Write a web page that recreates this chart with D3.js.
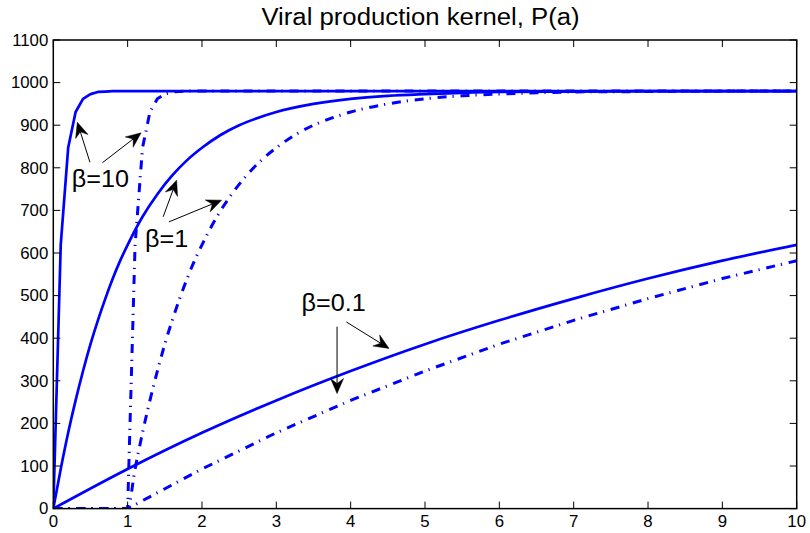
<!DOCTYPE html>
<html>
<head>
<meta charset="utf-8">
<script src="https://cdn.jsdelivr.net/npm/d3@7"></script>
<style>
  html, body { margin: 0; padding: 0; background: #fff; }
  svg { display: block; font-family: "Liberation Sans", Arial, Helvetica, sans-serif; }
</style>
</head>
<body>
<svg id="chart" width="810" height="533"></svg>
<script>
// Age since infection (a) and viral production P(a) for three values of beta.
// Solid curves start producing at a = 0, dash-dot curves after a delay of 1.
const beta10A = [0, 0.1, 0.2, 0.3, 0.4, 0.5, 0.6, 0.7, 0.8, 1, 10];
const beta10P = [0, 619, 847, 931, 962, 973, 978, 979, 980, 980, 980];

const beta10DelayA = [0, 1, 1.1, 1.2, 1.3, 1.4, 1.5, 1.6, 1.7, 1.8, 2, 10];
const beta10DelayP = [0, 0, 619, 847, 931, 962, 973, 978, 979, 980, 980, 980];

const beta1A = [0, 0.1, 0.2, 0.3, 0.4, 0.5, 0.6, 0.7, 0.8, 0.9, 1, 1.2, 1.4, 1.6, 1.8, 2, 2.25, 2.5, 2.75, 3, 3.5, 4, 4.5, 5, 5.5, 6, 7, 8, 10];
const beta1P = [0, 93, 178, 254, 323, 386, 442, 493, 540, 582, 619, 685, 738, 782, 818, 847, 877, 900, 917, 931, 950, 962, 969, 973, 976, 978, 979, 980, 980];

const beta1DelayA = [0, 1, 1.1, 1.2, 1.3, 1.4, 1.5, 1.6, 1.7, 1.8, 1.9, 2, 2.2, 2.4, 2.6, 2.8, 3, 3.25, 3.5, 3.75, 4, 4.5, 5, 5.5, 6, 6.5, 7, 8, 9, 10];
const beta1DelayP = [0, 0, 93, 178, 254, 323, 386, 442, 493, 540, 582, 619, 685, 738, 782, 818, 847, 877, 900, 917, 931, 950, 962, 969, 973, 976, 978, 979, 980, 980];

const beta01A = [0, 1, 2, 3, 4, 5, 6, 7, 8, 9, 10];
const beta01P = [0, 93, 178, 254, 323, 386, 442, 493, 540, 582, 619];

const beta01DelayA = [0, 1, 2, 3, 4, 5, 6, 7, 8, 9, 10];
const beta01DelayP = [0, 0, 93, 178, 254, 323, 386, 442, 493, 540, 582];

// Tick values
const xTicks = [0, 1, 2, 3, 4, 5, 6, 7, 8, 9, 10];
const yTicks = [0, 100, 200, 300, 400, 500, 600, 700, 800, 900, 1000, 1100];

// Annotation labels (data coordinates of text start / baseline)
const labelText = ["β=10", "β=1", "β=0.1"];
const labelA = [0.248, 1.233, 3.339];
const labelP = [755, 614, 464];

// Annotation arrows: tail and tip points in data coordinates
const arrowTails = [[0.493, 813], [0.661, 812], [1.478, 685], [1.555, 673], [3.817, 427], [3.943, 438]];
const arrowTips  = [[0.323, 907], [1.181, 882], [1.659, 771], [2.263, 724], [3.817, 270], [4.516, 376]];

const titleText = "Viral production kernel, P(a)";

const svg = d3.select("#chart");
const plotLeft = 53.3, plotRight = 796.7, plotTop = 40, plotBottom = 508.6;
const textStretch = 1.05;   // glyphs are slightly wider than the base font

const x = d3.scaleLinear().domain([0, 10]).range([plotLeft, plotRight]);
const y = d3.scaleLinear().domain([0, 1100]).range([plotBottom, plotTop]);

function addText(parent, tx, ty, str, size, anchor, dy) {
  return parent.append("text")
    .attr("transform", `translate(${tx},${ty}) scale(${textStretch},1)`)
    .attr("text-anchor", anchor || "start")
    .attr("dy", dy || null)
    .attr("font-size", size)
    .attr("fill", "#000")
    .text(str);
}

svg.append("defs").append("clipPath").attr("id", "plotClip")
  .append("rect").attr("x", plotLeft).attr("y", plotTop)
  .attr("width", plotRight - plotLeft).attr("height", plotBottom - plotTop);

// Title
addText(svg, 420.5, 25, titleText, 24.5, "middle");

// Curves
const blue = "#0000ff";
const line = d3.line().x(d => x(d[0])).y(d => y(d[1]));
const smoothLine = d3.line().x(d => x(d[0])).y(d => y(d[1])).curve(d3.curveMonotoneX);

const series = [
  { a: beta01DelayA, p: beta01DelayP, dash: true, gen: line },
  { a: beta1DelayA, p: beta1DelayP, dash: true, gen: smoothLine },
  { a: beta10DelayA, p: beta10DelayP, dash: true, gen: line },
  { a: beta01A, p: beta01P, dash: false, gen: smoothLine },
  { a: beta1A, p: beta1P, dash: false, gen: smoothLine },
  { a: beta10A, p: beta10P, dash: false, gen: line }
];

const plot = svg.append("g").attr("clip-path", "url(#plotClip)");
series.forEach(s => {
  const pts = s.a.map((v, i) => [v, s.p[i]]);
  plot.append("path")
    .attr("d", s.gen(pts))
    .attr("fill", "none")
    .attr("stroke", blue)
    .attr("stroke-width", s.dash ? 3 : 2.7)
    .attr("stroke-linejoin", "round")
    .attr("stroke-dasharray", s.dash ? "9,6,1.2,6.8" : null);
});

// Axes box and ticks (inward, on all four sides)
const axes = svg.append("g");
const tickLen = 7;
axes.append("rect")
  .attr("x", plotLeft).attr("y", plotTop)
  .attr("width", plotRight - plotLeft).attr("height", plotBottom - plotTop)
  .attr("fill", "none").attr("stroke", "#000").attr("stroke-width", 1.5);

xTicks.forEach(t => {
  axes.append("line").attr("x1", x(t)).attr("x2", x(t))
    .attr("y1", plotBottom).attr("y2", plotBottom - tickLen)
    .attr("stroke", "#000").attr("stroke-width", 1);
  axes.append("line").attr("x1", x(t)).attr("x2", x(t))
    .attr("y1", plotTop).attr("y2", plotTop + tickLen)
    .attr("stroke", "#000").attr("stroke-width", 1);
  addText(axes, x(t), plotBottom + 18, t, 16, "middle");
});

yTicks.forEach(t => {
  axes.append("line").attr("x1", plotLeft).attr("x2", plotLeft + tickLen)
    .attr("y1", y(t)).attr("y2", y(t))
    .attr("stroke", "#000").attr("stroke-width", 1);
  axes.append("line").attr("x1", plotRight).attr("x2", plotRight - tickLen)
    .attr("y1", y(t)).attr("y2", y(t))
    .attr("stroke", "#000").attr("stroke-width", 1);
  addText(axes, plotLeft - 5, y(t), t, 16, "end", "0.36em");
});

// Annotation labels
labelText.forEach((txt, i) => {
  addText(svg, x(labelA[i]), y(labelP[i]), txt, 24, "start");
});

// Annotation arrows with swept-back heads
const headLen = 15, headHalf = 6.5, headBack = 5;
arrowTails.forEach((tail, i) => {
  const tip = arrowTips[i];
  const x0 = x(tail[0]), y0 = y(tail[1]);
  const x1 = x(tip[0]), y1 = y(tip[1]);
  const ang = Math.atan2(y1 - y0, x1 - x0);
  const ux = Math.cos(ang), uy = Math.sin(ang);
  const px = -uy, py = ux;
  const bx = x1 - ux * headLen, by = y1 - uy * headLen;
  const nx = x1 - ux * (headLen - headBack), ny = y1 - uy * (headLen - headBack);
  svg.append("line")
    .attr("x1", x0).attr("y1", y0).attr("x2", nx).attr("y2", ny)
    .attr("stroke", "#000").attr("stroke-width", 1);
  svg.append("path")
    .attr("d", `M${x1},${y1} L${bx + px * headHalf},${by + py * headHalf} L${nx},${ny} L${bx - px * headHalf},${by - py * headHalf} Z`)
    .attr("fill", "#000").attr("stroke", "#000").attr("stroke-width", 0.5);
});
</script>
</body>
</html>
